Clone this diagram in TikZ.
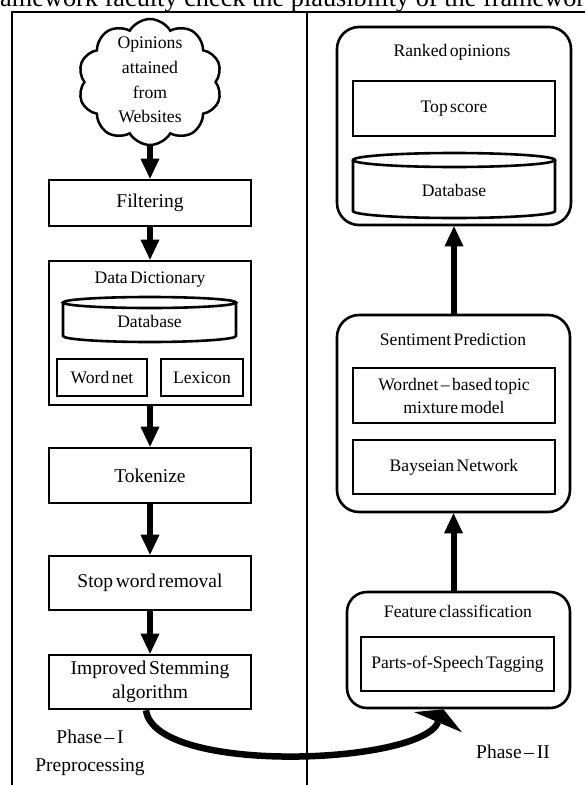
\documentclass[tikz,border=0pt]{standalone}
\usepackage{fontspec}
\setmainfont[WordSpace=0.55]{Liberation Serif}
\newfontfamily\headfont{Liberation Serif}
\usetikzlibrary{arrows.meta,shapes.symbols}
\newcommand{\fntbig}{\fontsize{19.5}{24}\selectfont}
\newcommand{\fntsmall}{\fontsize{17.6}{23}\selectfont}
\begin{document}
\begin{tikzpicture}[x=1pt,y=-1pt,
  box/.style={draw, line width=2.6pt, inner sep=0pt, align=center, font=\fntbig},
  ibox/.style={draw, line width=2.6pt, inner sep=0pt, align=center, font=\fntsmall},
  rbox/.style={draw, line width=2.6pt, rounded corners=22pt, inner sep=0pt},
  lbl/.style={inner sep=0pt, align=center, font=\fntsmall},
  arr/.style={line width=6pt, -{Triangle[width=19pt,length=20pt,line width=0pt]}},
  dbline/.style={line width=2.6pt}
  ]
\useasboundingbox (0,0) rectangle (585,785);
\clip (0,0) rectangle (585,785);

% frame
\draw[line width=2.5pt] (12,800) -- (12,12) -- (600,12);
\draw[line width=1.5pt] (307,12) -- (307,800);

% clipped running text above the figure
\node[anchor=base west, inner sep=0pt, font=\headfont\fontsize{26.3}{28}\selectfont] (head) at (-17.5,6) {framework faculty check the plausibility of the framework};

% ---- Phase I ----
\node[cloud, draw, line width=2.5pt, cloud puffs=10, cloud puff arc=120, aspect=1.15, minimum width=144pt, minimum height=126pt, inner sep=0pt] (cloud) at (150,82) {};
\node[lbl, font=\fontsize{17.7}{24.6}\selectfont] (cloudtxt) at (150,80) {Opinions\\attained\\from\\Websites};

\node[box, minimum width=202pt, minimum height=46pt] (filt) at (150,203) {Filtering};

\node[box, minimum width=202pt, minimum height=144pt] (dd) at (150,333) {};
\node[lbl] (ddt) at (150,280) {Data Dictionary};
\node[lbl] (db1) at (149.5,321) {Database};
\draw[dbline] (63,302.5) -- (63,336) arc[start angle=180, end angle=360, x radius=86.5pt, y radius=6pt] -- (236,302.5);
\draw[dbline] (149.5,302.5) ellipse[x radius=86.5pt, y radius=5.5pt];
\node[ibox, minimum width=90pt, minimum height=37pt] (wn) at (102,377.5) {Word net};
\node[ibox, minimum width=82pt, minimum height=37pt] (lex) at (202,377.5) {Lexicon};

\node[box, minimum width=202pt, minimum height=55pt] (tok) at (150,475.5) {Tokenize};
\node[box, minimum width=202pt, minimum height=54pt] (swr) at (150,583) {Stop word removal};
\node[box, minimum width=202pt, minimum height=54pt] (isa) at (150,682) {Improved Stemming\\algorithm};

\draw[arr] (cloud.south) -- (filt.north);
\draw[arr] (filt.south) -- (dd.north);
\draw[arr] (dd.south) -- (tok.north);
\draw[arr] (tok.south) -- (swr.north);
\draw[arr] (swr.south) -- (isa.north);

\node[lbl, font=\fontsize{19.5}{28}\selectfont] (ph1) at (90,753) {Phase – I\\Preprocessing};

% ---- Phase II ----
\node[rbox, minimum width=234pt, minimum height=198pt] (rank) at (454,126) {};
\node[lbl] (rankt) at (452,52) {Ranked opinions};
\node[ibox, minimum width=202pt, minimum height=55pt] (tops) at (454,108.5) {Top score};
\node[lbl] (db2) at (454,190) {Database};
\draw[dbline] (353,160) -- (353,211) arc[start angle=180, end angle=360, x radius=101pt, y radius=7pt] -- (555,160);
\draw[dbline] (454,160) ellipse[x radius=101pt, y radius=7pt];

\node[rbox, minimum width=233pt, minimum height=197pt] (sent) at (453.5,413.5) {};
\node[lbl] (sentt) at (453,339) {Sentiment Prediction};
\node[ibox, minimum width=202pt, minimum height=55pt, font=\fontsize{17.6}{23}\selectfont] (wtm) at (454,395.5) {Wordnet – based topic\\mixture model};
\node[ibox, minimum width=202pt, minimum height=54pt] (bay) at (454,467) {Bayseian Network};

\node[rbox, rounded corners=20pt, minimum width=223pt, minimum height=116pt] (feat) at (458.5,650) {};
\node[lbl] (featt) at (458,611) {Feature classification};
\node[ibox, minimum width=193pt, minimum height=54pt] (pos) at (457.5,664) {Parts-of-Speech Tagging};

\draw[arr] (sent.south |- feat.north) -- (sent.south);
\draw[arr] (rank.south |- sent.north) -- (rank.south);

\draw[line width=6.5pt, -{Triangle[width=52pt,length=14pt,line width=0pt]}] ([xshift=-4pt]isa.south) .. controls (155,775) and (420,765) .. ([xshift=-15pt]feat.south);

\node[lbl, font=\fntbig] (ph2) at (513,752) {Phase – II};
\end{tikzpicture}
\end{document}
